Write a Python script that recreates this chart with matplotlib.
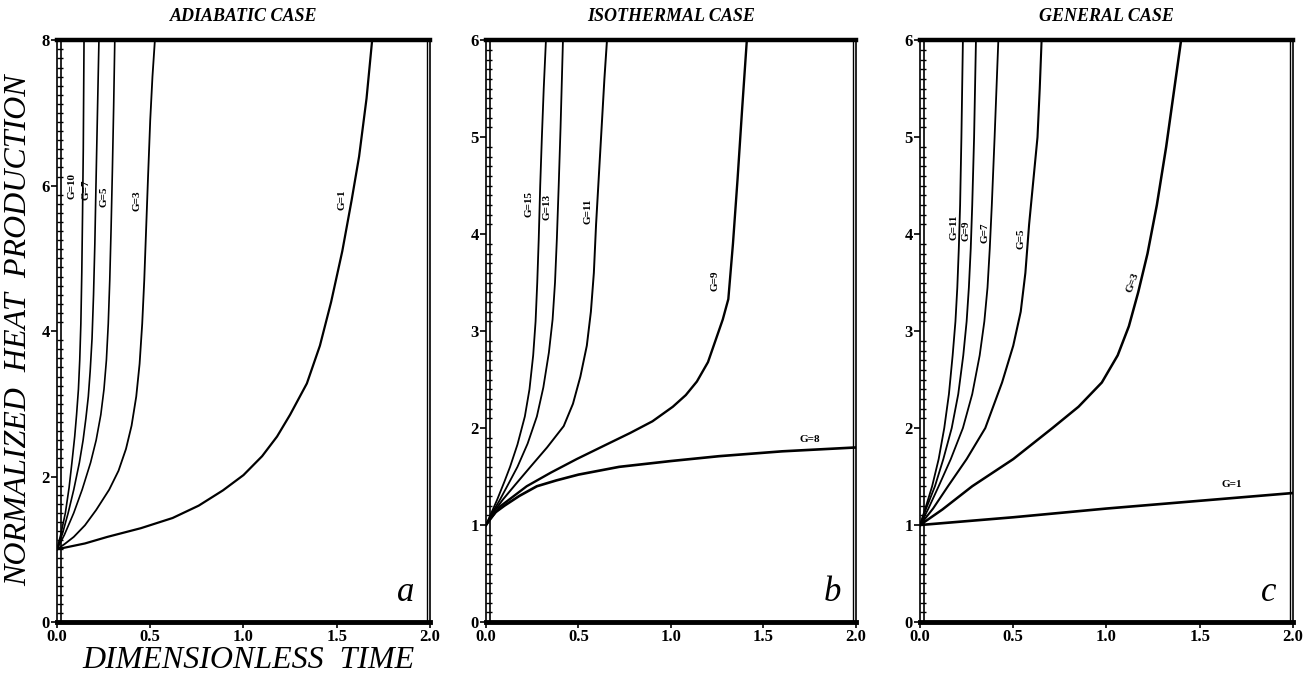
import matplotlib
matplotlib.use("Agg")
import matplotlib.pyplot as plt
from matplotlib.lines import Line2D
from matplotlib.transforms import offset_copy

plt.rcParams['font.family'] = ['Liberation Serif', 'DejaVu Serif']

# panel a: adiabatic case
adi_g10_t = [0, 0.02, 0.045, 0.065, 0.08, 0.095, 0.105, 0.115, 0.122, 0.128, 0.133, 0.137, 0.141, 0.145]
adi_g10_q = [1, 1.2, 1.5, 1.85, 2.19, 2.55, 2.85, 3.2, 3.6, 4.1, 4.8, 5.6, 6.5, 8.0]
adi_g7_t = [0, 0.03, 0.06, 0.09, 0.12, 0.14, 0.155, 0.168, 0.178, 0.188, 0.196, 0.203, 0.209, 0.217, 0.225]
adi_g7_q = [1, 1.22, 1.5, 1.82, 2.19, 2.5, 2.8, 3.1, 3.45, 3.9, 4.5, 5.2, 6.0, 7.0, 8.0]
adi_g5_t = [0, 0.04, 0.09, 0.135, 0.18, 0.21, 0.235, 0.252, 0.265, 0.275, 0.283, 0.29, 0.297, 0.304, 0.31]
adi_g5_q = [1, 1.2, 1.5, 1.82, 2.19, 2.5, 2.85, 3.2, 3.6, 4.1, 4.7, 5.4, 6.2, 7.1, 8.0]
adi_g3_t = [0, 0.04, 0.09, 0.15, 0.21, 0.28, 0.33, 0.37, 0.40, 0.425, 0.443, 0.457, 0.468,
            0.478, 0.488, 0.5, 0.512, 0.525]
adi_g3_q = [1, 1.07, 1.17, 1.33, 1.54, 1.82, 2.08, 2.38, 2.7, 3.1, 3.55, 4.1, 4.7,
            5.4, 6.1, 6.9, 7.5, 8.0]
adi_g1_t = [0, 0.15, 0.27, 0.45, 0.62, 0.76, 0.89, 1.0, 1.1, 1.18, 1.25, 1.34, 1.41,
            1.47, 1.53, 1.58, 1.62, 1.66, 1.69]
adi_g1_q = [1, 1.08, 1.17, 1.29, 1.43, 1.6, 1.81, 2.02, 2.28, 2.55, 2.85, 3.28, 3.8,
            4.4, 5.1, 5.8, 6.4, 7.2, 8.0]

# panel b: isothermal case
iso_g15_t = [0, 0.03, 0.06, 0.1, 0.13, 0.17, 0.21, 0.235, 0.255, 0.268, 0.277, 0.285,
             0.293, 0.302, 0.312, 0.324]
iso_g15_q = [1, 1.13, 1.26, 1.45, 1.6, 1.83, 2.12, 2.4, 2.75, 3.1, 3.5, 3.95,
             4.5, 5.0, 5.5, 6.0]
iso_g13_t = [0, 0.035, 0.075, 0.12, 0.17, 0.225, 0.275, 0.31, 0.34, 0.36, 0.373, 0.383,
             0.393, 0.403, 0.416]
iso_g13_q = [1, 1.13, 1.26, 1.42, 1.6, 1.84, 2.12, 2.42, 2.78, 3.12, 3.5, 3.95,
             4.5, 5.1, 6.0]
iso_g11_t = [0, 0.04, 0.09, 0.16, 0.24, 0.33, 0.42, 0.47, 0.51, 0.545, 0.567, 0.583,
             0.595, 0.61, 0.625, 0.64, 0.654]
iso_g11_q = [1, 1.13, 1.26, 1.42, 1.6, 1.8, 2.02, 2.25, 2.53, 2.85, 3.2, 3.6,
             4.1, 4.6, 5.1, 5.6, 6.0]
iso_g9_t = [0, 0.075, 0.22, 0.35, 0.49, 0.64, 0.78, 0.9, 1.01, 1.08, 1.14, 1.2, 1.24,
            1.28, 1.31, 1.335, 1.36, 1.385, 1.41]
iso_g9_q = [1, 1.19, 1.4, 1.54, 1.68, 1.82, 1.95, 2.07, 2.22, 2.34, 2.48, 2.68, 2.9,
            3.12, 3.33, 3.9, 4.57, 5.3, 6.0]
iso_g8_t = [0, 0.02, 0.05, 0.1, 0.18, 0.275, 0.38, 0.5, 0.72, 1.0, 1.26, 1.6, 2.0]
iso_g8_q = [1, 1.06, 1.13, 1.2, 1.3, 1.4, 1.46, 1.52, 1.6, 1.66, 1.71, 1.76, 1.8]

# panel c: general case
gen_g11_t = [0, 0.03, 0.065, 0.1, 0.13, 0.155, 0.175, 0.19, 0.2, 0.208, 0.215, 0.222, 0.23]
gen_g11_q = [1, 1.18, 1.4, 1.68, 2.0, 2.35, 2.75, 3.1, 3.45, 3.85, 4.3, 5.0, 6.0]
gen_g9_t = [0, 0.035, 0.08, 0.125, 0.17, 0.205, 0.232, 0.25, 0.262, 0.272, 0.28, 0.29, 0.30]
gen_g9_q = [1, 1.18, 1.4, 1.68, 2.0, 2.35, 2.75, 3.1, 3.45, 3.85, 4.3, 5.0, 6.0]
gen_g7_t = [0, 0.045, 0.10, 0.165, 0.23, 0.28, 0.32, 0.345, 0.362, 0.374, 0.385, 0.40, 0.42]
gen_g7_q = [1, 1.17, 1.4, 1.68, 2.0, 2.35, 2.75, 3.1, 3.45, 3.85, 4.3, 5.0, 6.0]
gen_g5_t = [0, 0.07, 0.15, 0.25, 0.35, 0.44, 0.5, 0.54, 0.565, 0.585, 0.61, 0.63, 0.642, 0.652]
gen_g5_q = [1, 1.17, 1.4, 1.68, 2.0, 2.47, 2.85, 3.2, 3.6, 4.1, 4.6, 5.0, 5.5, 6.0]
gen_g3_t = [0, 0.12, 0.28, 0.5, 0.71, 0.85, 0.975, 1.06, 1.12, 1.17, 1.22, 1.27, 1.32, 1.36, 1.40]
gen_g3_q = [1, 1.16, 1.4, 1.68, 2.0, 2.22, 2.47, 2.75, 3.05, 3.4, 3.8, 4.3, 4.9, 5.45, 6.0]
gen_g1_t = [0, 0.5, 1.0, 1.5, 2.0]
gen_g1_q = [1, 1.08, 1.17, 1.25, 1.33]

titles = ["ADIABATIC CASE", "ISOTHERMAL CASE", "GENERAL CASE"]
letters = ["a", "b", "c"]
x_ticks = [0.0, 0.5, 1.0, 1.5, 2.0]

fig = plt.figure(figsize=(13.1, 6.82), dpi=100)
ax_a = fig.add_axes([0.0435, 0.088, 0.2847, 0.853])
ax_b = fig.add_axes([0.371, 0.088, 0.2824, 0.853])
ax_c = fig.add_axes([0.7023, 0.088, 0.2847, 0.853])
axes = [ax_a, ax_b, ax_c]

# curves
ax_a.plot(adi_g10_t, adi_g10_q, 'k', lw=1.2)
ax_a.plot(adi_g7_t, adi_g7_q, 'k', lw=1.2)
ax_a.plot(adi_g5_t, adi_g5_q, 'k', lw=1.2)
ax_a.plot(adi_g3_t, adi_g3_q, 'k', lw=1.3)
ax_a.plot(adi_g1_t, adi_g1_q, 'k', lw=1.6)

ax_b.plot(iso_g15_t, iso_g15_q, 'k', lw=1.3)
ax_b.plot(iso_g13_t, iso_g13_q, 'k', lw=1.3)
ax_b.plot(iso_g11_t, iso_g11_q, 'k', lw=1.4)
ax_b.plot(iso_g9_t, iso_g9_q, 'k', lw=1.7)
ax_b.plot(iso_g8_t, iso_g8_q, 'k', lw=1.9)

ax_c.plot(gen_g11_t, gen_g11_q, 'k', lw=1.3)
ax_c.plot(gen_g9_t, gen_g9_q, 'k', lw=1.3)
ax_c.plot(gen_g7_t, gen_g7_q, 'k', lw=1.3)
ax_c.plot(gen_g5_t, gen_g5_q, 'k', lw=1.5)
ax_c.plot(gen_g3_t, gen_g3_q, 'k', lw=1.8)
ax_c.plot(gen_g1_t, gen_g1_q, 'k', lw=1.9)

# curve labels
lab = dict(fontsize=8, fontweight='bold', ha='center', va='center', rotation=90)
flat = dict(fontsize=8, fontweight='bold', ha='center', va='center')
ax_a.text(0.08, 6.0, "G=10", **lab)
ax_a.text(0.155, 5.95, "G=7", **lab)
ax_a.text(0.25, 5.85, "G=5", **lab)
ax_a.text(0.43, 5.8, "G=3", **lab)
ax_a.text(1.53, 5.8, "G=1", **lab)

ax_b.text(0.23, 4.31, "G=15", **lab)
ax_b.text(0.33, 4.28, "G=13", **lab)
ax_b.text(0.55, 4.24, "G=11", **lab)
ax_b.text(1.24, 3.52, "G=9", **lab)
ax_b.text(1.75, 1.88, "G=8", **flat)

ax_c.text(0.18, 4.07, "G=11", **lab)
ax_c.text(0.245, 4.03, "G=9", **lab)
ax_c.text(0.35, 4.01, "G=7", **lab)
ax_c.text(0.54, 3.95, "G=5", **lab)
ax_c.text(1.14, 3.5, "G=3", fontsize=8, fontweight='bold', ha='center', va='center',
          rotation=70)
ax_c.text(1.67, 1.42, "G=1", **flat)

for i, ax in enumerate(axes):
    ax.set_xlim(0, 2.0)
    if i == 0:
        ax.set_ylim(0, 8)
        ax.set_yticks([0, 2, 4, 6, 8])
        ax.set_yticks([v / 8 for v in range(0, 65)], minor=True)
    else:
        ax.set_ylim(0, 6)
        ax.set_yticks([0, 1, 2, 3, 4, 5, 6])
        ax.set_yticks([v / 10 for v in range(0, 61)], minor=True)
    ax.set_xticks(x_ticks)
    ax.set_xticklabels(["%.1f" % v for v in x_ticks])
    for t in ax.get_xticklabels() + ax.get_yticklabels():
        t.set_fontweight('bold')
        t.set_fontsize(12)
    ax.tick_params(axis='both', which='major', direction='out', length=4, width=1.2, pad=1)
    ax.tick_params(axis='y', which='minor', direction='in', length=4, width=1.0)
    ax.spines['top'].set_linewidth(3.2)
    ax.spines['bottom'].set_linewidth(3.5)
    ax.spines['left'].set_linewidth(1.2)
    ax.spines['right'].set_linewidth(1.2)
    # double lines on the left and right edges
    tl = offset_copy(ax.transAxes, fig=fig, x=4, y=0, units='dots')
    tr = offset_copy(ax.transAxes, fig=fig, x=-3, y=0, units='dots')
    ax.add_line(Line2D([0, 0], [0, 1], transform=tl, color='k', lw=1.2, clip_on=False))
    ax.add_line(Line2D([1, 1], [0, 1], transform=tr, color='k', lw=1.0, clip_on=False))
    ax.set_title(titles[i], fontsize=13, fontweight='bold', style='italic', pad=14)
    ax.text(0.935, 0.05, letters[i], transform=ax.transAxes, fontsize=25,
            style='italic', ha='center', va='center')

fig.text(0.014, 0.516, "NORMALIZED  HEAT  PRODUCTION", rotation=90, fontsize=23,
         style='italic', ha='center', va='center')
fig.text(0.19, 0.032, "DIMENSIONLESS  TIME", fontsize=23, style='italic',
         ha='center', va='center')

fig.savefig("out.png", dpi=100)
